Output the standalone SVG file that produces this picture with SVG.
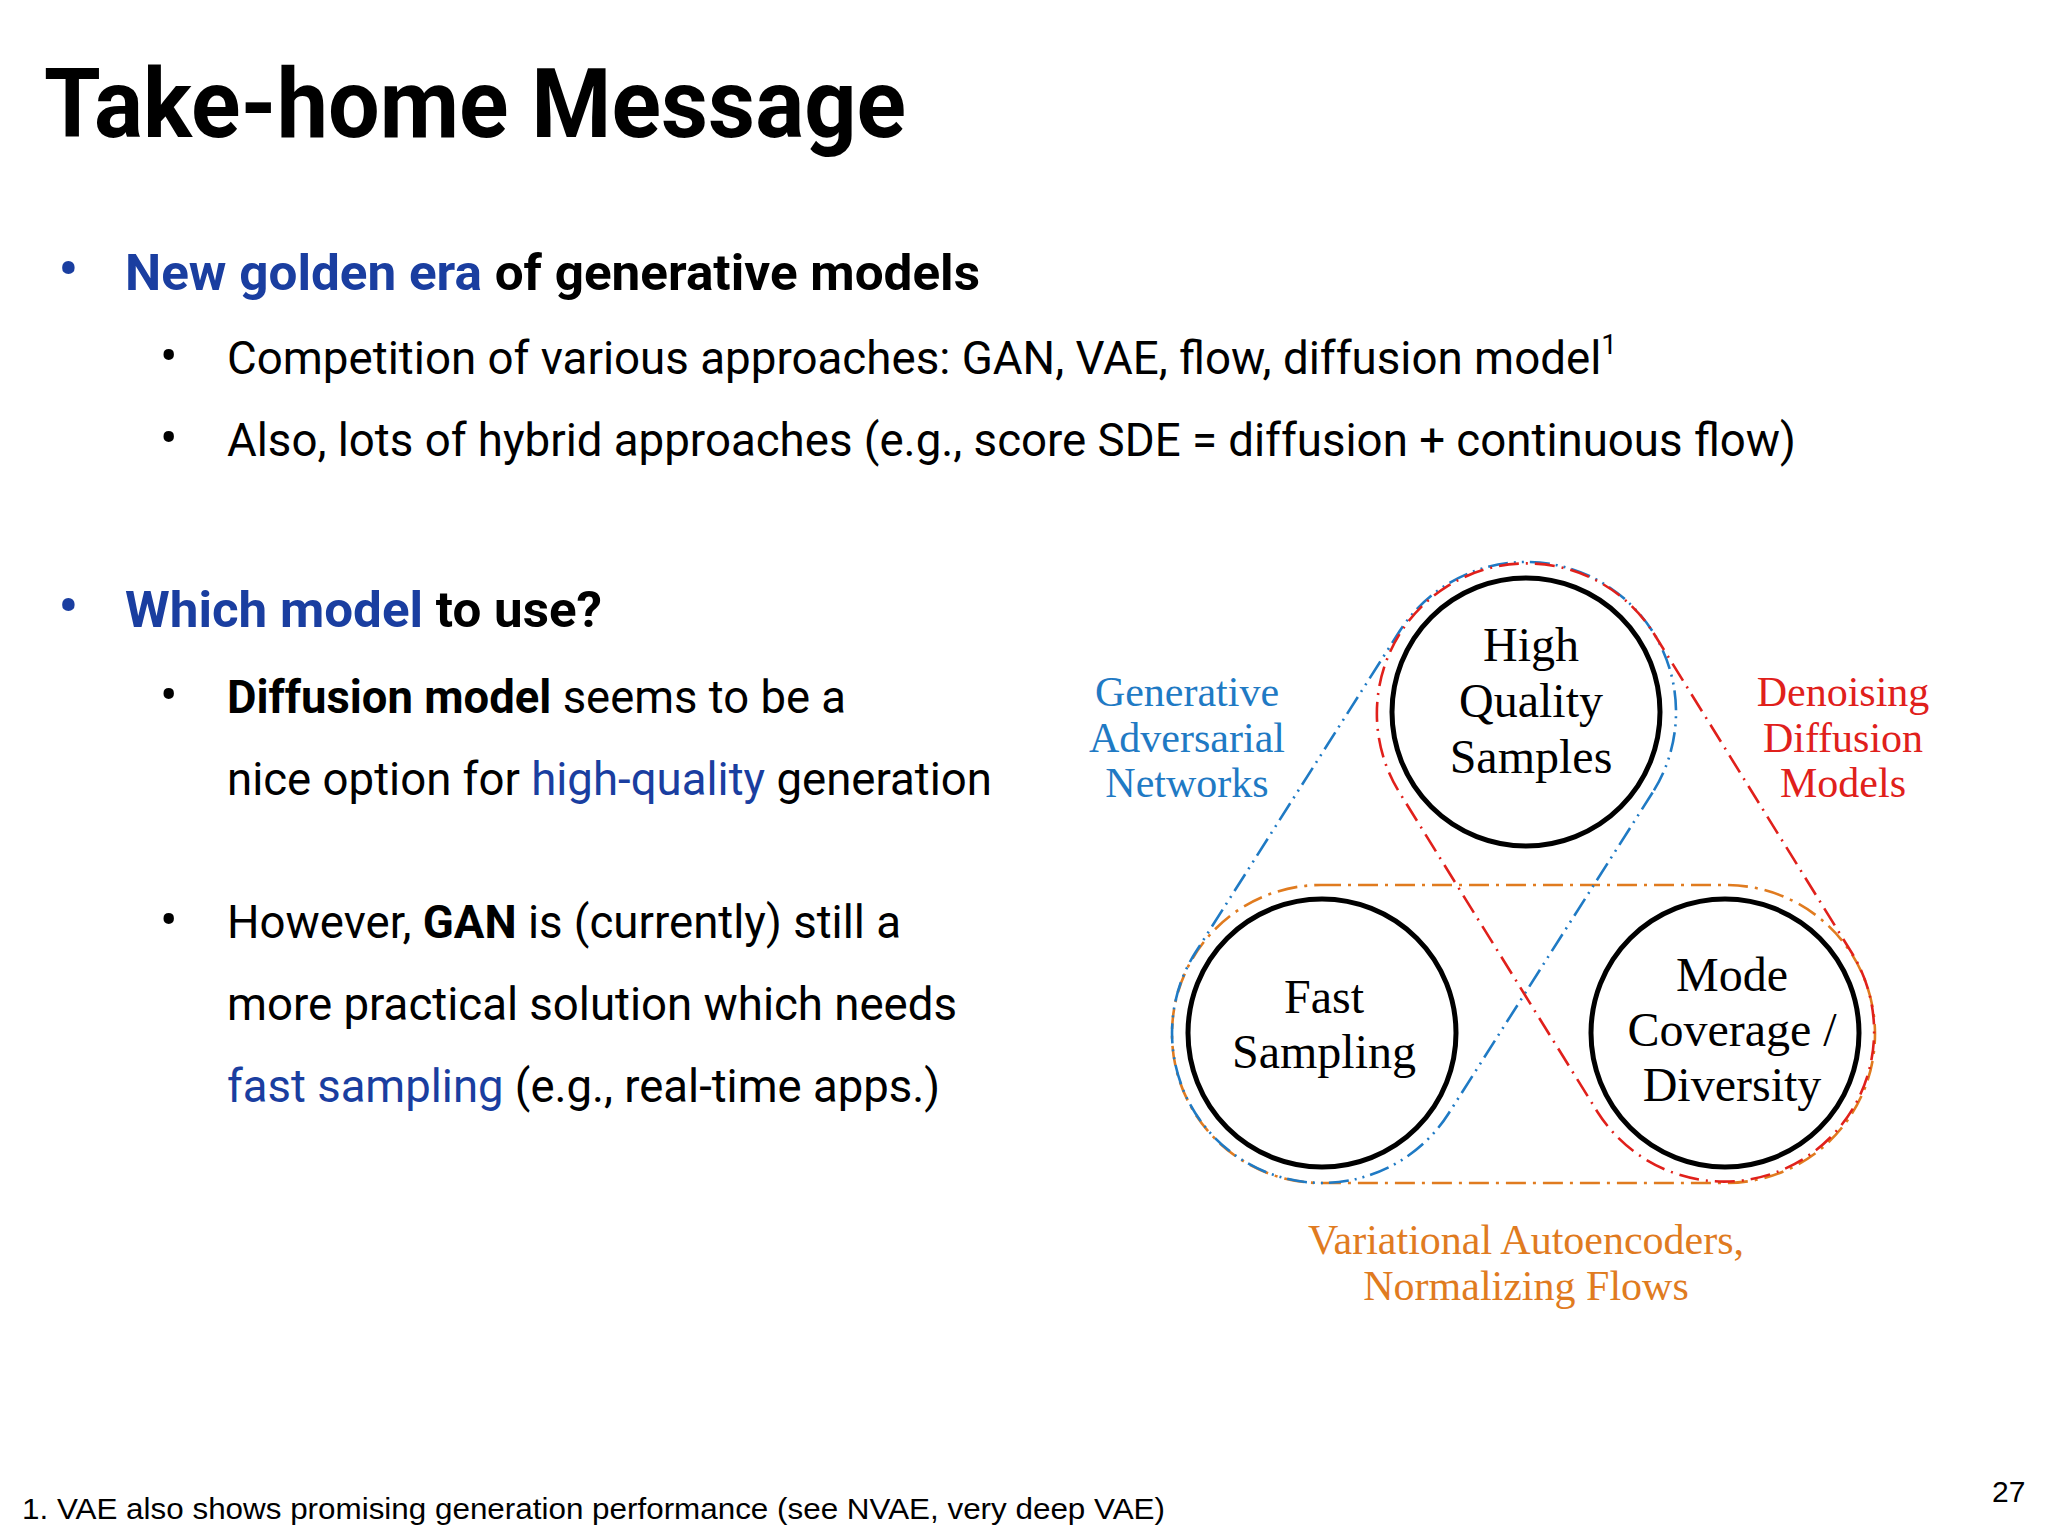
<svg xmlns="http://www.w3.org/2000/svg" width="2048" height="1536" viewBox="0 0 2048 1536">
<style>
.t{font-family:Roboto,"Liberation Sans",sans-serif;fill:#000}
.b{font-weight:bold}
.blue{fill:#1a3ea0}
.body{font-size:46px}
.serif{font-family:"Liberation Serif","Times New Roman",serif;text-anchor:middle}
.node{fill:#fff;stroke:#000;stroke-width:5}
.env{fill:none;stroke-width:2.6}
</style>
<rect width="2048" height="1536" fill="#fff"/>
<text class="t b" x="44" y="137" font-size="96" textLength="862" lengthAdjust="spacingAndGlyphs">Take-home Message</text>
<g id="text">
<text class="t blue" x="58" y="290" font-size="62">•</text>
<text class="t b" x="125" y="290" font-size="50" textLength="855" lengthAdjust="spacingAndGlyphs"><tspan class="blue">New golden era</tspan> of generative models</text>
<text class="t" x="160" y="374" font-size="52">•</text>
<text class="t body" x="227" y="374" textLength="1390" lengthAdjust="spacingAndGlyphs">Competition of various approaches: GAN, VAE, flow, diffusion model<tspan font-size="28" dy="-20">1</tspan></text>
<text class="t" x="160" y="456" font-size="52">•</text>
<text class="t body" x="227" y="456" textLength="1569" lengthAdjust="spacingAndGlyphs">Also, lots of hybrid approaches (e.g., score SDE = diffusion + continuous flow)</text>
<text class="t blue" x="58" y="627" font-size="62">•</text>
<text class="t b" x="125" y="627" font-size="50" textLength="477" lengthAdjust="spacingAndGlyphs"><tspan class="blue">Which model</tspan> to use?</text>
<text class="t" x="160" y="713" font-size="52">•</text>
<text class="t body" x="227" y="713" textLength="619" lengthAdjust="spacingAndGlyphs"><tspan class="b">Diffusion model</tspan> seems to be a</text>
<text class="t body" x="227" y="795" textLength="765" lengthAdjust="spacingAndGlyphs">nice option for <tspan class="blue">high-quality</tspan> generation</text>
<text class="t" x="160" y="938" font-size="52">•</text>
<text class="t body" x="227" y="938" textLength="674" lengthAdjust="spacingAndGlyphs">However, <tspan class="b">GAN</tspan> is (currently) still a</text>
<text class="t body" x="227" y="1020" textLength="730" lengthAdjust="spacingAndGlyphs">more practical solution which needs</text>
<text class="t body" x="227" y="1102" textLength="713" lengthAdjust="spacingAndGlyphs"><tspan class="blue">fast sampling</tspan> (e.g., real-time apps.)</text>
<text class="t" x="22" y="1519" font-size="30" textLength="1143" lengthAdjust="spacingAndGlyphs" style="font-family:'Liberation Sans',Arial,sans-serif">1. VAE also shows promising generation performance (see NVAE, very deep VAE)</text>
<text class="t" x="1992" y="1502" font-size="30" style="font-family:'Liberation Sans',Arial,sans-serif">27</text>
</g>
<g id="connectors">
<rect class="env" x="1172" y="885" width="703" height="298" rx="149" stroke="#e07b1f" stroke-dasharray="20 7 3 7"/>
<path class="env" stroke="#1f7ac4" stroke-dasharray="20 6 2 6 2 6" d="M1652.6 792.5 L1448.6 1113.5 A150 150 0 0 1 1195.4 952.5 L1399.4 631.5 A150 150 0 0 1 1652.6 792.5 Z"/>
<path class="env" stroke="#e0201b" stroke-dasharray="20 7 2 7" d="M1653.5 633 L1852.5 954 A150 150 0 0 1 1597.5 1112 L1398.5 791 A150 150 0 0 1 1653.5 633 Z"/>
</g>
<g id="high">
<circle class="node" cx="1526" cy="712" r="134"/>
<text class="serif" x="1531" y="661" font-size="48">High</text>
<text class="serif" x="1531" y="717" font-size="48">Quality</text>
<text class="serif" x="1531" y="773" font-size="48">Samples</text>
</g>
<g id="fast">
<circle class="node" cx="1322" cy="1033" r="134"/>
<text class="serif" x="1324" y="1013" font-size="48">Fast</text>
<text class="serif" x="1324" y="1068" font-size="48">Sampling</text>
</g>
<g id="mode">
<circle class="node" cx="1725" cy="1033" r="134"/>
<text class="serif" x="1732" y="991" font-size="48">Mode</text>
<text class="serif" x="1732" y="1046" font-size="48">Coverage /</text>
<text class="serif" x="1732" y="1101" font-size="48">Diversity</text>
</g>
<g id="labels">
<text class="serif" x="1187" y="706" font-size="42" fill="#1f7ac4">Generative</text>
<text class="serif" x="1187" y="752" font-size="42" fill="#1f7ac4">Adversarial</text>
<text class="serif" x="1187" y="797" font-size="42" fill="#1f7ac4">Networks</text>
<text class="serif" x="1843" y="706" font-size="42" fill="#e0201b">Denoising</text>
<text class="serif" x="1843" y="752" font-size="42" fill="#e0201b">Diffusion</text>
<text class="serif" x="1843" y="797" font-size="42" fill="#e0201b">Models</text>
<text class="serif" x="1526" y="1254" font-size="42" fill="#e07b1f">Variational Autoencoders,</text>
<text class="serif" x="1526" y="1300" font-size="42" fill="#e07b1f">Normalizing Flows</text>
</g>
</svg>
